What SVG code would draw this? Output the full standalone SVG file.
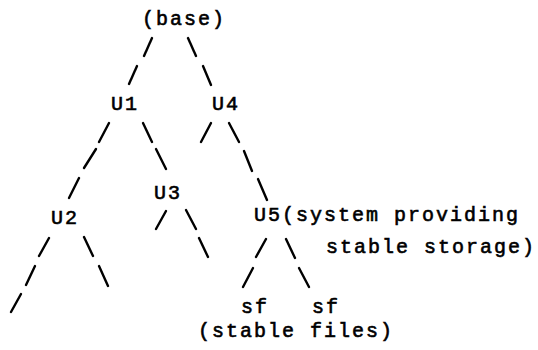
<svg xmlns="http://www.w3.org/2000/svg" width="538" height="350" viewBox="0 0 538 350">
  <style>
    .t { font-family: "Liberation Mono", "DejaVu Sans Mono", monospace; font-size: 20px; letter-spacing: 2px; fill: #000; stroke: #000; stroke-width: 0.6px; }
    .e line { stroke: #000; stroke-width: 2.4; stroke-linecap: round; }
  </style>
  <rect width="538" height="350" fill="#fff"/>

  <!-- tree edges, typed as slashes -->
  <g id="connectors" class="e">
    <!-- base to U1 / U4 -->
    <line x1="144" y1="56" x2="152" y2="38"/>
    <line x1="129" y1="84" x2="137" y2="66"/>
    <line x1="188" y1="38" x2="196" y2="56"/>
    <line x1="203" y1="66" x2="211" y2="85"/>
    <!-- U1 to U2 -->
    <line x1="99" y1="142" x2="109" y2="123"/>
    <line x1="84" y1="168" x2="96" y2="149"/>
    <line x1="69" y1="198" x2="79" y2="178"/>
    <!-- U1 to U3 -->
    <line x1="143" y1="123" x2="152" y2="142"/>
    <line x1="156" y1="149" x2="166" y2="169"/>
    <!-- U4 stub -->
    <line x1="201" y1="142" x2="211" y2="123"/>
    <!-- U4 to U5 -->
    <line x1="229" y1="123" x2="239" y2="142"/>
    <line x1="244" y1="151" x2="252" y2="171"/>
    <line x1="258" y1="179" x2="267" y2="200"/>
    <!-- U3 branches -->
    <line x1="156" y1="229" x2="166" y2="211"/>
    <line x1="186" y1="210" x2="196" y2="229"/>
    <line x1="199" y1="238" x2="208" y2="257"/>
    <!-- U2 branches -->
    <line x1="39" y1="256" x2="49" y2="238"/>
    <line x1="26" y1="285" x2="35" y2="266"/>
    <line x1="11" y1="312" x2="21" y2="294"/>
    <line x1="84" y1="237" x2="93" y2="256"/>
    <line x1="99" y1="266" x2="108" y2="286"/>
    <!-- U5 to sf / sf -->
    <line x1="256" y1="257" x2="266" y2="239"/>
    <line x1="243" y1="287" x2="253" y2="268"/>
    <line x1="286" y1="239" x2="295" y2="258"/>
    <line x1="299" y1="268" x2="309" y2="287"/>
  </g>

  <g id="base"><text class="t" x="142" y="25">(base)</text></g>
  <g id="u1"><text class="t" x="111" y="110">U1</text></g>
  <g id="u4"><text class="t" x="212" y="110">U4</text></g>
  <g id="u3"><text class="t" x="154" y="199">U3</text></g>
  <g id="u2"><text class="t" x="51" y="224">U2</text></g>
  <g id="u5">
    <text class="t" x="254" y="221">U5(system providing</text>
    <text class="t" x="326" y="253">stable storage)</text>
  </g>
  <g id="sf1"><text class="t" x="241" y="313">sf</text></g>
  <g id="sf2"><text class="t" x="312" y="313">sf</text></g>
  <g id="stable-files"><text class="t" x="198" y="337">(stable files)</text></g>
</svg>
